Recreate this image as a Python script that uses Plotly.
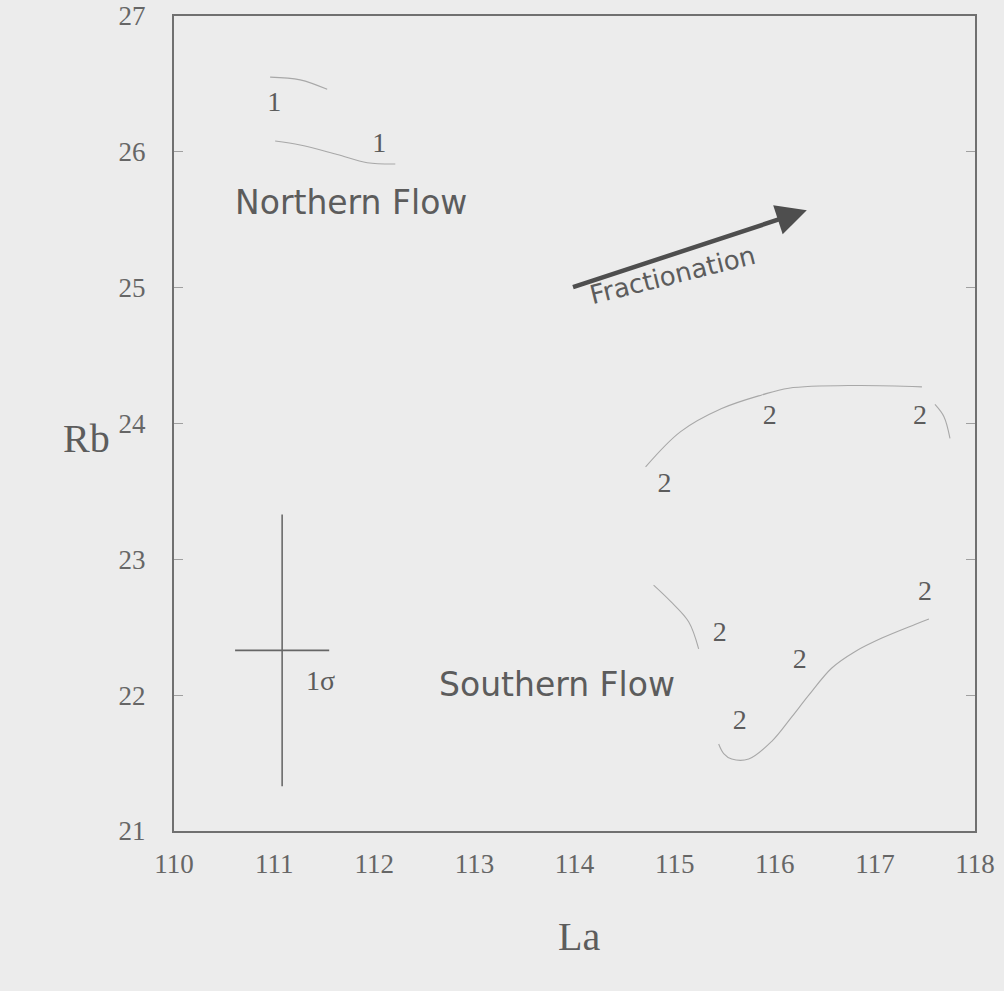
import plotly.graph_objects as go

# Sample positions (La, Rb) for the two flows, plotted as their group number
north_la = [111.0, 112.05]
north_rb = [26.35, 26.05]
north_lbl = ["1", "1"]

south_la = [114.9, 115.95, 117.45, 117.5, 115.45, 116.25, 115.65]
south_rb = [23.55, 24.05, 24.05, 22.75, 22.45, 22.25, 21.8]
south_lbl = ["2"] * len(south_la)

# Hand-traced outlines around the groups
north_upper_la = [110.96, 111.26, 111.53]
north_upper_rb = [26.55, 26.53, 26.46]
north_lower_la = [111.01, 111.26, 111.63, 111.93, 112.21]
north_lower_rb = [26.08, 26.05, 25.98, 25.92, 25.91]

south_upper_la = [114.71, 115.06, 115.47, 115.87, 116.14, 116.80, 117.47]
south_upper_rb = [23.68, 23.94, 24.11, 24.21, 24.26, 24.28, 24.27]
south_tick_la = [117.60, 117.69, 117.75]
south_tick_rb = [24.14, 24.05, 23.89]
south_left_la = [114.79, 114.96, 115.14, 115.24]
south_left_rb = [22.81, 22.69, 22.54, 22.34]
south_lower_la = [115.44, 115.49, 115.57, 115.74, 115.97, 116.17, 116.34,
                  116.57, 116.80, 117.07, 117.40, 117.54]
south_lower_rb = [21.64, 21.57, 21.53, 21.53, 21.66, 21.84, 22.00,
                  22.20, 22.32, 22.42, 22.52, 22.56]

# One-sigma uncertainty cross
sigma_la, sigma_rb = 111.08, 22.33
sigma_dla, sigma_drb = 0.47, 1.0

# Fractionation trend arrow
arrow_from = (113.97, 25.0)
arrow_to = (116.32, 25.57)

x_ticks = list(range(110, 119))
y_ticks = list(range(21, 28))

BG = "#ececec"
INK = "#5c5c5c"
SERIF = "Liberation Serif, Times New Roman, serif"
SANS = "DejaVu Sans, Arial, sans-serif"

fig = go.Figure()

outline = dict(color="#a8a8a8", width=1.1, shape="spline")
for xs, ys in [(north_upper_la, north_upper_rb), (north_lower_la, north_lower_rb),
               (south_upper_la, south_upper_rb), (south_tick_la, south_tick_rb),
               (south_left_la, south_left_rb), (south_lower_la, south_lower_rb)]:
    fig.add_trace(go.Scatter(x=xs, y=ys, mode="lines", line=outline,
                             hoverinfo="skip", showlegend=False))

for xs, ys, t in [(north_la, north_rb, north_lbl), (south_la, south_rb, south_lbl)]:
    fig.add_trace(go.Scatter(x=xs, y=ys, mode="text", text=t,
                             textposition="middle center",
                             textfont=dict(family=SERIF, size=28, color=INK),
                             showlegend=False))

fig.add_trace(go.Scatter(
    x=[sigma_la], y=[sigma_rb], mode="markers",
    marker=dict(size=1, color="#6a6a6a"),
    error_x=dict(type="constant", value=sigma_dla, width=0, color="#666666", thickness=1.8),
    error_y=dict(type="constant", value=sigma_drb, width=0, color="#6a6a6a", thickness=1.6),
    showlegend=False))

fig.add_annotation(x=sigma_la + 0.38, y=sigma_rb - 0.22, text="1σ", showarrow=False,
                   font=dict(family=SERIF, size=28, color=INK))

fig.add_annotation(x=arrow_to[0], y=arrow_to[1], ax=arrow_from[0], ay=arrow_from[1],
                   xref="x", yref="y", axref="x", ayref="y", text="",
                   showarrow=True, arrowhead=2, arrowsize=1.35, arrowwidth=4.5,
                   arrowcolor="#4e4e4e")
fig.add_annotation(x=114.98, y=25.09, text="Fractionation", showarrow=False,
                   textangle=-14, font=dict(family=SANS, size=26, color=INK))

fig.add_annotation(x=111.77, y=25.63, text="Northern Flow", showarrow=False,
                   font=dict(family=SANS, size=33, color=INK))
fig.add_annotation(x=113.83, y=22.08, text="Southern Flow", showarrow=False,
                   font=dict(family=SANS, size=33, color=INK))

fig.add_annotation(x=-0.109, y=0.482, xref="paper", yref="paper", text="Rb",
                   xanchor="center", yanchor="middle",
                   showarrow=False, font=dict(family=SERIF, size=40, color=INK))
fig.add_annotation(x=0.506, y=-0.13, xref="paper", yref="paper", text="La",
                   xanchor="center", yanchor="middle",
                   showarrow=False, font=dict(family=SERIF, size=40, color=INK))

axis_common = dict(showline=True, linecolor="#707070", linewidth=2,
                   showgrid=False, zeroline=False, automargin=False,
                   tickfont=dict(family=SERIF, size=27, color="#666666"))

fig.update_xaxes(range=[110, 118], tickvals=x_ticks, ticks="", mirror=True,
                 ticklabelstandoff=8, **axis_common)
fig.update_yaxes(range=[21, 27], tickvals=y_ticks, ticks="inside", ticklen=9,
                 tickcolor="#a0a0a0", tickwidth=1, mirror="ticks",
                 ticklabelstandoff=21, **axis_common)

fig.update_layout(width=1004, height=991, paper_bgcolor=BG, plot_bgcolor=BG,
                  margin=dict(l=174, r=29, t=16, b=160), showlegend=False)

fig.write_html("out.html")
